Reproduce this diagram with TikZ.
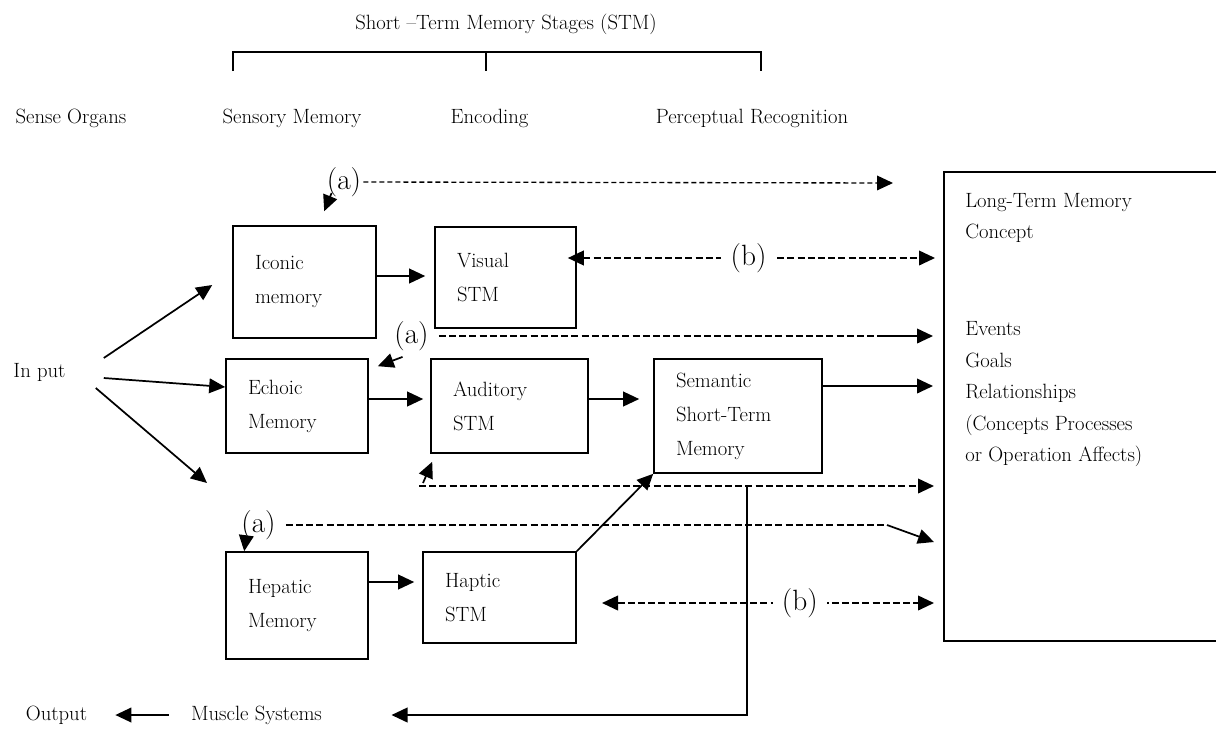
\documentclass[tikz,border=0pt]{standalone}
\usepackage{fontspec}
\usepackage{tikz}
\usetikzlibrary{arrows.meta,calc}
\tikzset{ebox/.style={draw,line width=1.2pt,align=left,inner xsep=16.5pt,inner ysep=0pt,font=\fontsize{15.5}{25.5}\selectfont}}
\tikzset{etext/.style={inner sep=0pt,font=\fontsize{15.5}{25.5}\selectfont}}
\tikzset{eletter/.style={inner sep=0pt,font=\fontsize{22}{26}\selectfont}}
\tikzset{eline/.style={line width=1.3pt}}
\tikzset{edash/.style={line width=1.3pt,dash pattern=on 5.25pt off 2.4pt}}

\begin{document}
\begin{tikzpicture}[x=0.75pt,y=-0.75pt,>={Triangle[length=12pt,width=11pt]}]
            \useasboundingbox (0,0) rectangle (1216,729);
            \clip (0,0) rectangle (1216,729);
            % headings and the bracket
            \node[etext] (stages) at (506,24) {Short --Term Memory Stages (STM)};
            \draw[eline] (233,71) |- (761,52) -- (761,71);
            \draw[eline] (486,52) -- (486,71);
            \node[etext] (organs) at (71,118) {Sense Organs};
            \node[etext] (sensory) at (292,118) {Sensory Memory};
            \node[etext] (encoding) at (489.5,118) {Encoding};
            \node[etext] (perceptual) at (752,118) {Perceptual Recognition};

            % the memory boxes
            \node[ebox,text width=74.25pt,minimum height=84pt] (iconic) at (304.5,282) {Iconic\\memory};
            \node[ebox,text width=72.75pt,minimum height=75.75pt] (visual) at (505.5,277.5) {Visual\\STM};
            \node[ebox,text width=73.5pt,minimum height=70.5pt] (echoic) at (297,406) {Echoic\\Memory};
            \node[ebox,text width=84.75pt,minimum height=70.5pt] (auditory) at (509.5,406) {Auditory\\STM};
            \node[ebox,text width=93pt,minimum height=85.5pt] (semantic) at (738,416) {Semantic\\Short-Term\\Memory};
            \node[ebox,text width=73.5pt,minimum height=80.25pt] (hepatic) at (297,605.5) {Hepatic\\Memory};
            \node[ebox,text width=81.75pt,minimum height=68.25pt] (haptic) at (499.5,597.5) {Haptic\\STM};
            \node[draw,line width=1.2pt,anchor=north west,minimum width=240pt,minimum height=351.75pt] (ltm) at (943,171) {};
            \node[etext,anchor=north west,align=left,font=\fontsize{15.5}{23.6}\selectfont] (ltmtext) at (965,193)
                {Long-Term Memory\\Concept\\[49pt]Events\\Goals\\Relationships\\(Concepts Processes\\or Operation Affects)};

            % input, output and the (a) / (b) marks
            \node[etext] (input) at (39.5,372) {In put};
            \node[etext] (output) at (56.5,715) {Output};
            \node[etext] (muscle) at (256.5,715) {Muscle Systems};
            \node[eletter] (atop) at (344,182) {(a)};
            \node[eletter] (amid) at (411.5,336) {(a)};
            \node[eletter] (alow) at (258.5,525) {(a)};
            \coordinate (lowin) at (207,483);
            \coordinate (atopend) at (893,183);
            \coordinate (asolid) at (880,336);
            \coordinate (dashstart) at (419,486);
            \coordinate (tap) at (747,486);
            \coordinate (abend) at (887,525);
            \coordinate (aend) at (934,542);
            \coordinate (bstart) at (602,603);

            % from the input
            \draw[eline,->] ($(input.east)+(38,-14)$) -- ($(iconic.west)+(-20,3)$);
            \draw[eline,->] ($(input.east)+(38,6)$) -- ($(echoic.west)+(0,-19)$);
            \draw[eline,->] ($(input.east)+(30,16)$) -- (lowin);

            % sensory stores to short-term stores
            \draw[eline,->,shorten >=6.75pt] (iconic.east |- 0,276) -- (visual.west |- 0,276);
            \draw[eline,->,shorten >=5.25pt] (echoic.east |- 0,399) -- (auditory.west |- 0,399);
            \draw[eline,->,shorten >=10.5pt] (auditory.east |- 0,399) -- (semantic.west |- 0,399);
            \draw[eline,->,shorten >=6pt] (hepatic.east |- 0,582) -- (haptic.west |- 0,582);
            \draw[eline,->] (haptic.north east) -- (semantic.south west);
            \draw[eline,->,shorten >=7.5pt] (semantic.east |- 0,386) -- (ltm.west |- 0,386);

            % (a) paths
            \draw[line width=1pt,dash pattern=on 3.75pt off 2.25pt,->] ($(atop.east)+(2,0)$) -- (atopend);
            \draw[eline,->] ($(atop.south west)+(5,-4)$) -- ($(iconic.north west)+(92,-14)$);
            \draw[edash] ($(amid.east)+(10,0)$) -- (asolid);
            \draw[eline,->] (asolid) -- ($(ltm.west |- asolid)+(-10,0)$);
            \draw[eline,->] ($(amid.south)+(-9,6)$) -- ($(echoic.north east)+(9,8)$);
            \draw[edash] ($(alow.east)+(10,0)$) -- (abend);
            \draw[eline,->] (abend) -- (aend);
            \draw[eline,->] ($(alow.south west)+(5,-3)$) -- ($(hepatic.north west)+(19,0)$);
            \draw[edash,->] (dashstart) -- ($(ltm.west |- dashstart)+(-9,0)$);
            \draw[eline,->] ($(dashstart)+(4,-3)$) -- ($(auditory.south west)+(2,8)$);

            % (b) paths
            \draw[edash,<->,shorten <=-6.75pt,shorten >=6pt] (visual.east |- 0,258) -- (ltm.west |- 0,258)
                node[eletter,fill=white,inner xsep=7pt,pos=0.469] (btop) {(b)};
            \draw[edash,<->,shorten >=6.75pt] (bstart) -- (ltm.west |- bstart)
                node[eletter,fill=white,inner xsep=7pt,pos=0.58] (blow) {(b)};

            % to the muscles and the output
            \draw[eline,->,shorten >=52pt] (tap) |- (muscle.east);
            \draw[eline,->,shorten <=16.5pt,shorten >=21pt] (muscle.west) -- (output.east);
        \end{tikzpicture}
\end{document}
